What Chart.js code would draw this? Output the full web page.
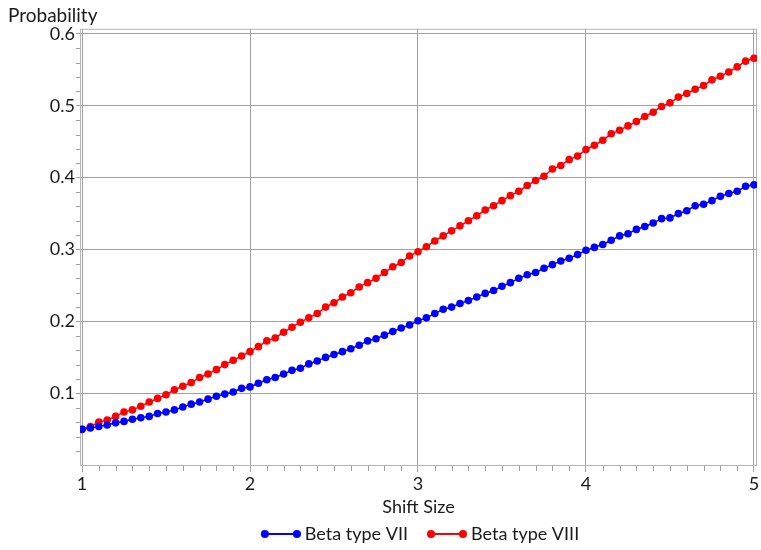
<!DOCTYPE html>
<html>
<head>
<meta charset="utf-8">
<script src="https://cdn.jsdelivr.net/npm/chart.js@4.4.0/dist/chart.umd.min.js"></script>
<style>
  html, body { margin: 0; padding: 0; background: #ffffff; }
  #wrap { width: 761px; height: 550px; }
</style>
</head>
<body>
<div id="wrap"><canvas id="c" width="761" height="550"></canvas></div>
<script>
// Shift sizes on the horizontal axis
const shiftSize = [
  1.00, 1.05, 1.10, 1.15, 1.20, 1.25, 1.30, 1.35, 1.40, 1.45,
  1.50, 1.55, 1.60, 1.65, 1.70, 1.75, 1.80, 1.85, 1.90, 1.95,
  2.00, 2.05, 2.10, 2.15, 2.20, 2.25, 2.30, 2.35, 2.40, 2.45,
  2.50, 2.55, 2.60, 2.65, 2.70, 2.75, 2.80, 2.85, 2.90, 2.95,
  3.00, 3.05, 3.10, 3.15, 3.20, 3.25, 3.30, 3.35, 3.40, 3.45,
  3.50, 3.55, 3.60, 3.65, 3.70, 3.75, 3.80, 3.85, 3.90, 3.95,
  4.00, 4.05, 4.10, 4.15, 4.20, 4.25, 4.30, 4.35, 4.40, 4.45,
  4.50, 4.55, 4.60, 4.65, 4.70, 4.75, 4.80, 4.85, 4.90, 4.95,
  5.00
];

// Detection probability, Beta type VII
const betaTypeVII = [
  0.050, 0.052, 0.054, 0.056, 0.059, 0.061, 0.064, 0.066, 0.068, 0.072,
  0.074, 0.077, 0.081, 0.085, 0.088, 0.092, 0.096, 0.099, 0.102, 0.107,
  0.109, 0.114, 0.119, 0.122, 0.127, 0.132, 0.135, 0.141, 0.145, 0.150,
  0.154, 0.158, 0.162, 0.167, 0.173, 0.176, 0.181, 0.186, 0.191, 0.195,
  0.201, 0.205, 0.211, 0.217, 0.220, 0.225, 0.229, 0.234, 0.239, 0.243,
  0.249, 0.254, 0.260, 0.265, 0.268, 0.274, 0.279, 0.284, 0.288, 0.293,
  0.299, 0.303, 0.307, 0.313, 0.319, 0.322, 0.328, 0.332, 0.337, 0.343,
  0.344, 0.350, 0.354, 0.361, 0.363, 0.368, 0.374, 0.378, 0.381, 0.388,
  0.390
];

// Detection probability, Beta type VIII
const betaTypeVIII = [
  0.050, 0.054, 0.060, 0.063, 0.068, 0.074, 0.077, 0.082, 0.088, 0.093,
  0.098, 0.105, 0.110, 0.115, 0.122, 0.127, 0.133, 0.140, 0.146, 0.152,
  0.158, 0.165, 0.173, 0.177, 0.185, 0.192, 0.199, 0.205, 0.211, 0.220,
  0.226, 0.234, 0.240, 0.248, 0.254, 0.260, 0.268, 0.276, 0.282, 0.291,
  0.297, 0.304, 0.312, 0.319, 0.326, 0.333, 0.340, 0.347, 0.355, 0.361,
  0.368, 0.375, 0.381, 0.389, 0.396, 0.402, 0.412, 0.417, 0.425, 0.430,
  0.439, 0.445, 0.452, 0.461, 0.466, 0.472, 0.478, 0.485, 0.491, 0.499,
  0.504, 0.512, 0.517, 0.523, 0.528, 0.536, 0.541, 0.547, 0.554, 0.562,
  0.566
];

// Labelled ticks
const xTickValues = [1, 2, 3, 4, 5];
const yTickValues = [0.1, 0.2, 0.3, 0.4, 0.5, 0.6];

const FONT = 'Lato, "Open Sans", sans-serif';
const TEXT = '#1a1a1a';
const GRID = '#a0a0a0';
const BLUE = '#0000ff';
const RED = '#ff0000';

// Legend swatch: a short line with a dot at each end, sitting at the
// right-hand side of a 50px legend box (image is centred on the box)
function legendSwatch(color) {
  const c = document.createElement('canvas');
  c.width = 60; c.height = 10;
  const g = c.getContext('2d');
  g.strokeStyle = color; g.fillStyle = color; g.lineWidth = 2;
  g.beginPath(); g.moveTo(24, 5); g.lineTo(56, 5); g.stroke();
  [24, 56].forEach(cx => { g.beginPath(); g.arc(cx, 5, 4, 0, Math.PI * 2); g.fill(); });
  return c;
}

// Frame round the plot and the minor tick marks
const frameAndMinorTicks = {
  id: 'frameAndMinorTicks',
  beforeDatasetsDraw(chart) {
    const { ctx, chartArea: a, scales: { x, y } } = chart;
    ctx.save();
    ctx.lineWidth = 1;
    ctx.strokeStyle = '#b4b4b4';
    ctx.strokeRect(a.left + 0.5, a.top + 0.5, a.right - a.left - 1, a.bottom - a.top - 1);
    ctx.strokeStyle = GRID;
    ctx.beginPath();
    for (let i = 10; i <= 50; i++) {
      if (i % 10 === 0) continue;
      const px = Math.round(x.getPixelForValue(i / 10)) + 0.5;
      ctx.moveTo(px, a.bottom); ctx.lineTo(px, a.bottom + 5);
    }
    for (let i = 1; i <= 30; i++) {
      if (i % 5 === 0) continue;
      const py = Math.round(y.getPixelForValue(i / 50)) + 0.5;
      ctx.moveTo(a.left, py); ctx.lineTo(a.left - 4, py);
    }
    ctx.stroke();
    ctx.restore();
  }
};

// Centre the legend under the plot area and drop it slightly
const legendPlacement = {
  id: 'legendPlacement',
  afterLayout(chart) {
    const lg = chart.legend, a = chart.chartArea;
    if (!lg) return;
    const dx = (a.left + a.right) / 2 - (lg.left + lg.right) / 2 - 6;
    lg.left += dx; lg.right += dx;
    lg.top += 3; lg.bottom += 3;
  }
};

const series = (values) => values.map((v, i) => ({ x: shiftSize[i], y: v }));

new Chart(document.getElementById('c'), {
  type: 'line',
  data: {
    datasets: [
      {
        label: 'Beta type VII',
        data: series(betaTypeVII),
        borderColor: BLUE, backgroundColor: BLUE,
        pointBackgroundColor: BLUE, pointBorderWidth: 0,
        pointRadius: 3.8, borderWidth: 1.5, tension: 0,
        pointStyle: 'circle'
      },
      {
        label: 'Beta type VIII',
        data: series(betaTypeVIII),
        borderColor: RED, backgroundColor: RED,
        pointBackgroundColor: RED, pointBorderWidth: 0,
        pointRadius: 3.8, borderWidth: 1.5, tension: 0,
        pointStyle: 'circle'
      }
    ]
  },
  options: {
    responsive: false,
    animation: false,
    layout: { padding: { left: 8, right: 4, top: 0, bottom: 0 } },
    plugins: {
      title: {
        display: true, text: 'Probability', align: 'start',
        color: TEXT, font: { family: FONT, size: 19, weight: 'normal' },
        padding: { top: 4, bottom: 2 }
      },
      legend: {
        display: true, position: 'bottom',
        labels: {
          color: TEXT, font: { family: FONT, size: 18 },
          usePointStyle: true, pointStyleWidth: 50, boxHeight: 10, padding: 4,
          generateLabels: (chart) => chart.data.datasets.map((ds, i) => ({
            text: ds.label, datasetIndex: i, fontColor: TEXT,
            pointStyle: legendSwatch(ds.borderColor),
            fillStyle: ds.borderColor, strokeStyle: ds.borderColor, lineWidth: 0
          }))
        }
      },
      tooltip: { enabled: false }
    },
    scales: {
      x: {
        type: 'linear', min: 0.988, max: 5.018,
        afterBuildTicks: (s) => { s.ticks = xTickValues.map(v => ({ value: v })); },
        afterFit: (s) => { s.height = 52; },
        ticks: {
          color: TEXT, font: { family: FONT, size: 18 }, padding: 1,
          maxRotation: 0, autoSkip: false, callback: (v) => String(v)
        },
        grid: { color: GRID, tickColor: GRID, tickLength: 6, lineWidth: 1 },
        border: { display: false },
        title: {
          display: true, text: 'Shift Size', color: TEXT,
          font: { family: FONT, size: 18 }, padding: { top: 0, bottom: 0 }
        }
      },
      y: {
        type: 'linear', min: -0.001, max: 0.607,
        afterBuildTicks: (s) => { s.ticks = yTickValues.map(v => ({ value: v })); },
        afterFit: (s) => { s.width = 72; },
        ticks: {
          color: TEXT, font: { family: FONT, size: 18 }, padding: 1,
          autoSkip: false, callback: (v) => v.toFixed(1)
        },
        grid: { color: GRID, tickColor: GRID, tickLength: 4, lineWidth: 1 },
        border: { display: false }
      }
    }
  },
  plugins: [frameAndMinorTicks, legendPlacement]
});
</script>
</body>
</html>
